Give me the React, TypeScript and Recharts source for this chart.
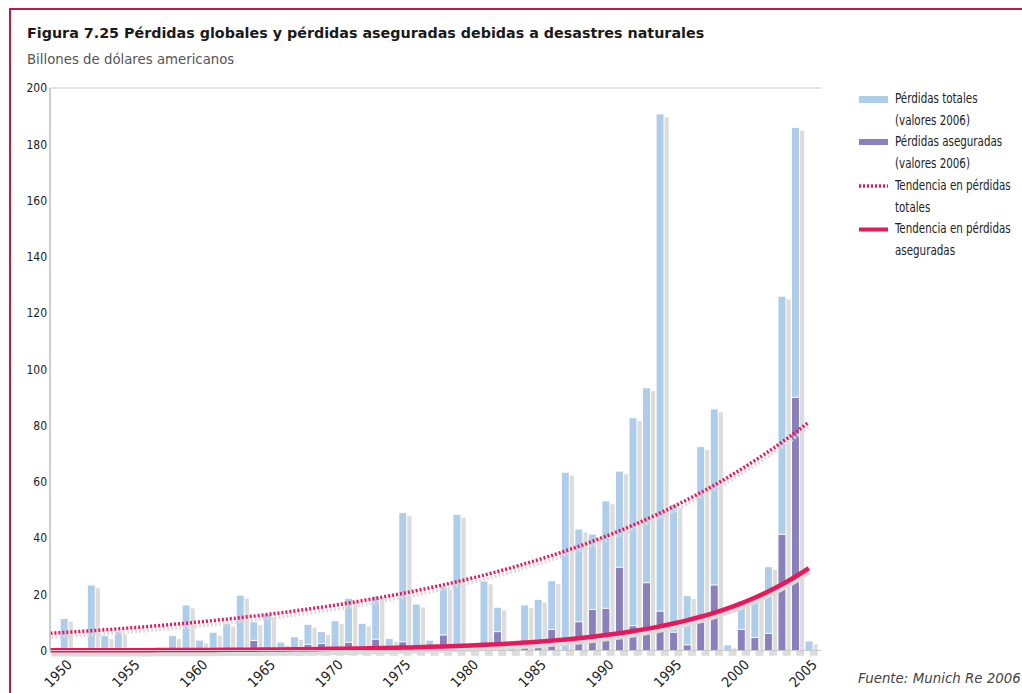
import React from 'react';
import {
  ComposedChart,
  Bar,
  Line,
  XAxis,
  YAxis,
  CartesianGrid,
} from 'recharts';

// ---- data ----
const years: number[] = [
  1950, 1951, 1952, 1953, 1954, 1955, 1956, 1957, 1958, 1959,
  1960, 1961, 1962, 1963, 1964, 1965, 1966, 1967, 1968, 1969,
  1970, 1971, 1972, 1973, 1974, 1975, 1976, 1977, 1978, 1979,
  1980, 1981, 1982, 1983, 1984, 1985, 1986, 1987, 1988, 1989,
  1990, 1991, 1992, 1993, 1994, 1995, 1996, 1997, 1998, 1999,
  2000, 2001, 2002, 2003, 2004, 2005,
];

// Pérdidas totales (valores 2006), billones USD
const totalLosses: (number | null)[] = [
  11.4, null, 23.3, 5.3, 6.9, null, null, null, 5.3, 16.2,
  3.7, 6.5, 9.7, 19.7, 10.2, 13.0, 3.0, 4.9, 9.3, 6.7,
  10.6, 18.6, 9.7, 19.4, 4.3, 49.1, 16.5, 3.7, 22.9, 48.4,
  2.0, 24.7, 15.4, 3.1, 16.2, 18.2, 24.8, 63.4, 43.2, 41.4,
  53.2, 63.8, 82.8, 93.4, 190.8, 52.0, 19.5, 72.5, 85.9, 2.0,
  17.6, 18.9, 29.8, 126.0, 186.0, 3.4,
];

// Pérdidas aseguradas (valores 2006)
const insuredLosses: (number | null)[] = [
  null, null, null, null, null, null, null, null, null, null,
  null, null, null, null, 3.6, null, null, null, 2.2, 2.5,
  null, 2.9, null, 4.0, null, 3.1, 0.6, null, 5.5, null,
  null, null, 6.7, 2.0, 1.5, 1.0, 7.5, null, 10.2, 14.6,
  15.0, 29.6, 8.8, 24.1, 14.0, 6.5, 2.0, 10.2, 23.3, null,
  7.5, 4.6, 6.1, 41.3, 90.0, null,
];

const trendYears: number[] = [
  1949, 1950, 1951, 1952, 1953, 1954, 1955, 1956, 1957, 1958, 1959,
  1960, 1961, 1962, 1963, 1964, 1965, 1966, 1967, 1968, 1969,
  1970, 1971, 1972, 1973, 1974, 1975, 1976, 1977, 1978, 1979,
  1980, 1981, 1982, 1983, 1984, 1985, 1986, 1987, 1988, 1989,
  1990, 1991, 1992, 1993, 1994, 1995, 1996, 1997, 1998, 1999,
  2000, 2001, 2002, 2003, 2004, 2005,
];

const trendTotal: number[] = [
  6.11, 6.4, 6.7, 7.02, 7.35, 7.7, 8.06, 8.44, 8.84, 9.26, 9.7,
  10.16, 10.64, 11.14, 11.67, 12.22, 12.8, 13.4, 14.04, 14.7, 15.39,
  16.12, 16.88, 17.68, 18.52, 19.39, 20.31, 21.27, 22.27, 23.33, 24.43,
  25.58, 26.79, 28.06, 29.39, 30.78, 32.23, 33.75, 35.35, 37.02, 38.77,
  40.6, 42.52, 44.53, 46.64, 48.84, 51.15, 53.57, 56.1, 58.75, 61.53,
  64.44, 67.49, 70.68, 74.02, 77.52, 81.18,
];

const trendInsured: number[] = [
  0.05, 0.06, 0.07, 0.08, 0.09, 0.1, 0.11, 0.12, 0.14, 0.15, 0.17,
  0.19, 0.21, 0.24, 0.27, 0.3, 0.34, 0.38, 0.42, 0.47, 0.53,
  0.59, 0.66, 0.74, 0.82, 0.92, 1.03, 1.15, 1.29, 1.44, 1.61,
  1.8, 2.01, 2.25, 2.51, 2.81, 3.14, 3.51, 3.93, 4.39, 4.91,
  5.49, 6.14, 6.87, 7.68, 8.58, 9.6, 10.73, 12.0, 13.41, 15.0,
  16.77, 18.75, 20.96, 23.44, 26.21, 29.3,
];

const xTicks: number[] = [1950, 1955, 1960, 1965, 1970, 1975, 1980, 1985, 1990, 1995, 2000, 2005];
const yTicks: number[] = [0, 20, 40, 60, 80, 100, 120, 140, 160, 180, 200];

const legendItems = [
  { key: 'total', lines: ['Pérdidas totales', '(valores 2006)'], kind: 'rectBlue' },
  { key: 'insured', lines: ['Pérdidas aseguradas', '(valores 2006)'], kind: 'rectPurple' },
  { key: 'trendTotal', lines: ['Tendencia en pérdidas', 'totales'], kind: 'dotted' },
  { key: 'trendInsured', lines: ['Tendencia en pérdidas', 'aseguradas'], kind: 'solid' },
];

// ---- styles ----
const BLUE = '#aecdeb';
const PURPLE = '#8a80be';
const PINK = '#e8185c';
const SHADOW = '#dcdcdc';
const GRID = '#c9c9c9';
const NARROW = '"DejaVu Sans Condensed", "DejaVu Sans", sans-serif';

const barData = years.map((y, i) => ({ year: y, total: totalLosses[i], insured: insuredLosses[i] }));
const trendData = trendYears.map((y, i) => ({ year: y, trendTotal: trendTotal[i], trendInsured: trendInsured[i] }));

const TotalShape = (props: any) => {
  const { x, y, width, height } = props;
  if (height == null || height <= 0 || isNaN(height)) return null;
  return (
    <g>
      <rect x={x + 4.7} y={y + 3.3} width={width} height={height + 2} fill={SHADOW} />
      <rect x={x} y={y} width={width} height={height} fill={BLUE} stroke="#ffffff" strokeWidth={1} />
    </g>
  );
};

const InsuredShape = (props: any) => {
  const { x, y, width, height } = props;
  if (height == null || height <= 0 || isNaN(height)) return null;
  return <rect x={x} y={y} width={width} height={height} fill={PURPLE} stroke="#ffffff" strokeWidth={1} />;
};

const XTick = (props: any) => {
  const { x, y, payload } = props;
  const px = x + 9;
  const py = y + 15;
  return (
    <text
      x={px}
      y={py}
      transform={`rotate(-45 ${px} ${py})`}
      textAnchor="end"
      fontFamily={NARROW}
      fontStretch="condensed"
      fontSize={14}
      fill="#222"
    >
      {payload.value}
    </text>
  );
};

const Swatch = ({ kind }: { kind: string }) => {
  return (
    <svg width={29} height={22} style={{ display: 'block', flexShrink: 0 }}>
      {kind === 'rectBlue' && <rect x={0} y={8} width={29} height={7} fill={BLUE} />}
      {kind === 'rectPurple' && <rect x={0} y={8} width={29} height={6} fill={PURPLE} />}
      {kind === 'dotted' && (
        <line x1={0} y1={11} x2={29} y2={11} stroke={PINK} strokeWidth={3.5} strokeDasharray="2 2" />
      )}
      {kind === 'solid' && <line x1={0} y1={11.5} x2={29} y2={11.5} stroke={PINK} strokeWidth={4} />}
    </svg>
  );
};

const LegendBlock = () => (
  <div
    style={{
      position: 'absolute',
      left: 859,
      top: 88,
      width: 300,
      fontFamily: NARROW,
      fontStretch: 'condensed',
      fontSize: 14,
      color: '#222',
      lineHeight: '21.7px',
      whiteSpace: 'nowrap',
    }}
  >
    {legendItems.map((it) => (
      <div key={it.key} style={{ display: 'flex', alignItems: 'flex-start' }}>
        <Swatch kind={it.kind} />
        <div style={{ marginLeft: 7, transform: 'scaleX(0.82)', transformOrigin: '0 0', flexShrink: 0 }}>
          {it.lines.map((l) => (
            <div key={l}>{l}</div>
          ))}
        </div>
      </div>
    ))}
  </div>
);

export default function App() {
  return (
    <div
      style={{
        position: 'absolute',
        left: 0,
        top: 0,
        width: 1022,
        height: 693,
        background: '#ffffff',
        overflow: 'hidden',
      }}
    >
      <style>{`
        .trend-shadow-dot { transform: translate(1px, 4px); }
        .trend-shadow-solid { transform: translate(1px, 4px); }
      `}</style>
      <div
        style={{
          position: 'absolute',
          left: 9,
          top: 8,
          width: 1100,
          height: 800,
          borderTop: '2px solid #b21d47',
          borderLeft: '2px solid #b21d47',
        }}
      />
      <div style={{ position: 'absolute', left: 0, top: 0 }}>
        <ComposedChart
          width={1022}
          height={693}
          data={barData}
          margin={{ top: 88, right: 201, bottom: 0, left: 10 }}
          barGap={-8}
        >
          <CartesianGrid vertical={false} stroke={GRID} strokeWidth={1} />
          <XAxis
            type="number"
            dataKey="year"
            domain={[1948.97, 2005.9]}
            ticks={xTicks}
            interval={0}
            tick={<XTick />}
            tickLine={false}
            tickSize={0}
            tickMargin={0}
            axisLine={{ stroke: GRID }}
            height={42.5}
            allowDataOverflow
          />
          <YAxis
            yAxisId="left"
            domain={[0, 200]}
            ticks={yTicks}
            width={40}
            tickLine={false}
            tickSize={0}
            axisLine={{ stroke: '#bdbdbd', strokeWidth: 1.5 }}
            tickMargin={3}
            tick={{ fontFamily: NARROW, fontSize: 12, fill: '#222', style: { fontStretch: 'condensed' } }}
          />
          <YAxis
            yAxisId="right"
            orientation="right"
            domain={[0, 200]}
            width={0}
            tick={false}
            tickLine={false}
            axisLine={{ stroke: GRID, strokeWidth: 1.5 }}
          />
          <Bar
            yAxisId="left"
            dataKey="total"
            barSize={8}
            shape={<TotalShape />}
            isAnimationActive={false}
          />
          <Bar
            yAxisId="left"
            dataKey="insured"
            barSize={8}
            shape={<InsuredShape />}
            isAnimationActive={false}
          />
          <Line
            yAxisId="left"
            data={trendData}
            dataKey="trendTotal"
            className="trend-shadow-dot"
            stroke={SHADOW}
            strokeWidth={3.5}
            strokeDasharray="2 2"
            dot={false}
            activeDot={false}
            type="monotone"
            isAnimationActive={false}
          />
          <Line
            yAxisId="left"
            data={trendData}
            dataKey="trendInsured"
            className="trend-shadow-solid"
            stroke={SHADOW}
            strokeWidth={4.5}
            dot={false}
            activeDot={false}
            type="monotone"
            isAnimationActive={false}
          />
          <Line
            yAxisId="left"
            data={trendData}
            dataKey="trendTotal"
            stroke={PINK}
            strokeWidth={3.5}
            strokeDasharray="2 2"
            dot={false}
            activeDot={false}
            type="monotone"
            isAnimationActive={false}
          />
          <Line
            yAxisId="left"
            data={trendData}
            dataKey="trendInsured"
            stroke={PINK}
            strokeWidth={4.5}
            dot={false}
            activeDot={false}
            type="monotone"
            isAnimationActive={false}
          />
        </ComposedChart>
      </div>
      <LegendBlock />
      <svg
        width={1022}
        height={693}
        style={{ position: 'absolute', left: 0, top: 0, pointerEvents: 'none' }}
      >
        <text x={27} y={38} fontFamily='"DejaVu Sans", sans-serif' fontWeight="bold" fontSize={14.3} fill="#1a1a1a">
          Figura 7.25 Pérdidas globales y pérdidas aseguradas debidas a desastres naturales
        </text>
        <text x={27} y={63.5} fontFamily='"DejaVu Sans", sans-serif' fontSize={13.3} fill="#555">
          Billones de dólares americanos
        </text>
        <text x={858} y={683} fontFamily='"DejaVu Sans", sans-serif' fontStyle="italic" fontSize={13.4} fill="#444">
          Fuente: Munich Re 2006
        </text>
      </svg>
    </div>
  );
}
